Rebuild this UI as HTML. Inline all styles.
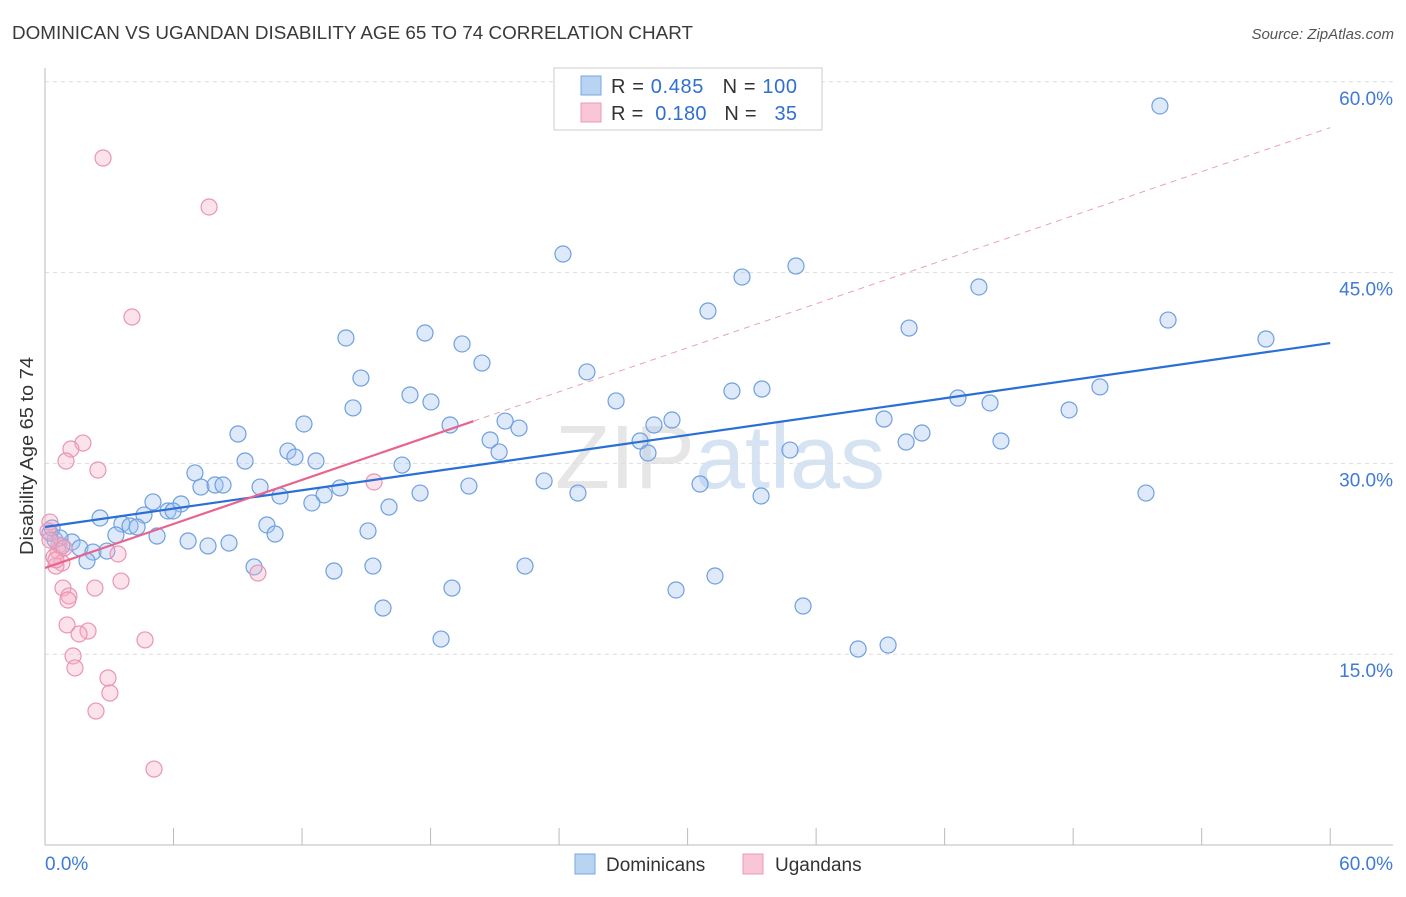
<!DOCTYPE html>
<html><head><meta charset="utf-8"><style>
body{margin:0;background:#fff;font-family:"Liberation Sans",sans-serif;}
svg text{font-family:"Liberation Sans",sans-serif;}
</style></head><body>
<svg id="chart" width="1406" height="892">
<text x="12" y="39" font-size="18" fill="#3a3a3a" textLength="681" lengthAdjust="spacingAndGlyphs">DOMINICAN VS UGANDAN DISABILITY AGE 65 TO 74 CORRELATION CHART</text>
<text x="1394" y="39" font-size="15" fill="#555" font-style="italic" text-anchor="end">Source: ZipAtlas.com</text>
<text x="720" y="488" font-size="90" fill="#e6e6e6" text-anchor="middle" font-family="Liberation Serif">ZIP<tspan fill="#d6e3f3" font-family="Liberation Sans">atlas</tspan></text>
<g id="grid"></g><g id="axes"></g><g id="trends"></g><g id="pts"></g>
<text transform="translate(33,456) rotate(-90)" font-size="18" fill="#333" text-anchor="middle" textLength="198" lengthAdjust="spacingAndGlyphs">Disability Age 65 to 74</text>
<g>
<rect x="554" y="68" width="268" height="62" fill="#fff" stroke="#ccc"/>
<rect x="581" y="76" width="20" height="19" fill="#b9d3f3" stroke="#7aa6e2"/>
<rect x="581" y="103" width="20" height="19" fill="#f9c6d6" stroke="#eb9ab5"/>
<text x="611" y="93" font-size="20" fill="#333" textLength="186" lengthAdjust="spacing">R = <tspan fill="#2f6fd0">0.485</tspan>&#160;&#160;&#160;N = <tspan fill="#2f6fd0">100</tspan></text>
<text x="611" y="120" font-size="20" fill="#333" textLength="186" lengthAdjust="spacing">R = <tspan fill="#2f6fd0">&#160;0.180</tspan>&#160;&#160;&#160;N = <tspan fill="#2f6fd0">&#160;&#160;35</tspan></text>
</g>
<g>
<rect x="575" y="854" width="20" height="20" fill="#b9d3f3" stroke="#7aa6e2"/>
<text x="606" y="871" font-size="19" fill="#333">Dominicans</text>
<rect x="743" y="854" width="20" height="20" fill="#f9c6d6" stroke="#eb9ab5"/>
<text x="775" y="871" font-size="19" fill="#333">Ugandans</text>
</g>
</svg>
<script>
const blueX=[52.05,24.18,32.54,35.06,43.6,30.95,40.34,52.43,57.0,14.05,17.74,19.47,20.4,14.75,25.3,32.07,33.47,17.04,18.02,14.38,26.66,42.62,44.12,47.81,49.25,39.17,12.09,18.91,21.48,22.13,28.43,29.27,9.01,27.78,20.78,40.94,40.2,44.63,34.78,11.34,11.67,12.65,9.34,21.2,28.15,16.67,7.0,7.28,7.94,8.31,10.04,10.97,13.03,13.77,12.46,19.79,23.3,30.58,24.88,17.51,16.06,33.43,51.4,5.04,6.35,5.74,5.98,4.62,2.57,3.59,3.97,4.3,10.36,15.08,10.74,5.23,3.31,6.68,8.59,7.61,1.26,0.79,1.63,2.24,2.89,1.96,0.47,0.23,9.76,13.49,15.31,22.41,31.28,19.0,29.46,15.78,35.39,18.49,39.36,37.96,0.33,0.7];
const blueY=[58.1,46.46,44.65,45.52,43.87,41.98,40.64,41.27,39.78,39.86,40.25,39.39,37.89,36.71,37.19,35.69,35.85,35.38,34.83,34.36,34.91,35.14,34.75,34.2,36.01,33.49,33.1,33.02,33.33,32.78,33.02,33.41,32.31,31.76,31.84,32.39,31.68,31.76,31.05,30.97,30.5,30.19,30.19,30.9,30.82,29.87,29.25,28.14,28.3,28.3,28.14,27.44,27.52,28.07,26.89,28.22,28.62,28.38,27.67,27.67,26.57,27.44,27.67,26.97,26.81,26.26,26.26,25.94,25.71,25.24,25.08,25.0,25.16,24.69,24.45,24.29,24.37,23.9,23.74,23.51,23.82,23.51,23.35,23.03,23.11,22.33,23.98,24.53,21.86,21.54,21.93,21.93,21.15,20.2,20.05,18.63,18.79,16.19,15.72,15.41,24.92,24.14];
const pinkX=[2.71,7.66,4.06,1.77,1.21,0.98,2.47,15.36,0.23,0.14,0.65,0.61,0.42,0.79,0.51,3.41,9.94,3.55,0.84,2.33,1.12,1.07,1.03,2.01,1.59,4.67,1.31,1.4,2.94,3.03,2.38,5.09,0.23,0.89,0.51];
const pinkY=[54.01,50.16,41.51,31.6,31.13,30.19,29.48,28.54,25.39,24.69,23.58,23.11,22.64,22.17,21.93,22.88,21.38,20.75,20.2,20.2,19.58,19.26,17.3,16.82,16.59,16.12,14.86,13.92,13.13,11.95,10.53,5.97,23.98,23.35,22.41];
const blueTrend=[25.0,0.241];
const pinkTrend=[21.78,0.577];
const yTicks=[15,30,45,60];
const xTickLabels=["0.0%","60.0%"];
const NS="http://www.w3.org/2000/svg";
const X=v=>45+v*21.42, Y=v=>845-v*12.72;
function mk(t,a,p){const e=document.createElementNS(NS,t);for(const k in a)e.setAttribute(k,a[k]);document.getElementById(p).appendChild(e);return e;}
yTicks.forEach(t=>{
 const g=mk('line',{x1:45,x2:1393,y1:Y(t),y2:Y(t),stroke:'#ddd','stroke-dasharray':'4,4'},'grid');
 
 
 const l=mk('text',{x:1393,y:Y(t)+23,'font-size':19,fill:'#3f7ad6','text-anchor':'end'},'axes');
 l.textContent=t.toFixed(1)+'%';
 
 
});
let a=mk('line',{x1:45,x2:45,y1:68,y2:845,stroke:'#bbb'},'axes');


a=mk('line',{x1:45,x2:1393,y1:845,y2:845,stroke:'#bbb'},'axes');


for(let i=0;i<=10;i++){const t=mk('line',{x1:X(i*6),x2:X(i*6),y1:828,y2:845,stroke:'#bbb'},'axes');
 
 }
[[0,'start',45],[60,'end',1393]].forEach((d,i)=>{const t=mk('text',{x:d[2],y:870,'font-size':19,fill:'#3f7ad6','text-anchor':d[1]},'axes');t.textContent=xTickLabels[i];
 
 });
let tl=mk('line',{x1:X(20),y1:Y(pinkTrend[0]+pinkTrend[1]*20),x2:X(60),y2:Y(pinkTrend[0]+pinkTrend[1]*60),stroke:'#eaa0b8','stroke-dasharray':'6,5','stroke-width':1},'trends');


blueX.forEach((x,i)=>{const c=mk('circle',{cx:X(x),cy:Y(blueY[i]),r:8,fill:'rgba(160,196,240,0.35)',stroke:'#6f9fe0','stroke-width':1.2},'pts');
 
 });
pinkX.forEach((x,i)=>{const c=mk('circle',{cx:X(x),cy:Y(pinkY[i]),r:8,fill:'rgba(245,175,198,0.35)',stroke:'#ea94b2','stroke-width':1.2},'pts');
 
 });
tl=mk('line',{x1:X(0),y1:Y(blueTrend[0]),x2:X(60),y2:Y(blueTrend[0]+blueTrend[1]*60),stroke:'#2a6fd6','stroke-width':2.2},'pts');


tl=mk('line',{x1:X(0),y1:Y(pinkTrend[0]),x2:X(20),y2:Y(pinkTrend[0]+pinkTrend[1]*20),stroke:'#e8648f','stroke-width':2.2},'pts');


</script>
</body></html>
